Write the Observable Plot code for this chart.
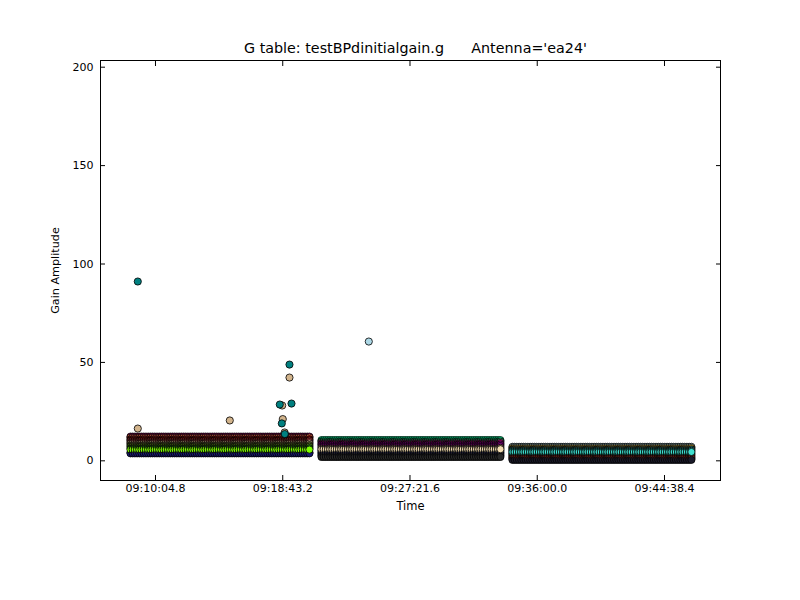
<!DOCTYPE html>
<html>
<head>
<meta charset="utf-8">
<script src="https://cdn.jsdelivr.net/npm/d3@7"></script>
<script src="https://cdn.jsdelivr.net/npm/@observablehq/plot@0.6"></script>
<style>
  html, body { margin: 0; padding: 0; background: #fff; }
  svg { display: block; }
  svg, svg text { font-family: "DejaVu Sans", sans-serif !important; }
</style>
</head>
<body>
<div id="chart"></div>
<script>
// ---- axis ticks ----
const xTickSeconds = [33004.8, 33523.2, 34041.6, 34560.0, 35078.4];
const xTickLabels = ["09:10:04.8", "09:18:43.2", "09:27:21.6", "09:36:00.0", "09:44:38.4"];
const yTicks = [0, 50, 100, 150, 200];

// ---- scans (seconds of day) and integration offsets within a scan ----
const scanStarts = [32903, 33681, 34459];
const integrationOffsets = [0,9,18,27,36,45,54,63,72,81,90,99,108,117,126,135,144,153,162,171,180,189,198,207,216,225,234,243,252,261,270,279,288,297,306,315,324,333,342,351,360,369,378,387,396,405,414,423,432,441,450,459,468,477,486,495,504,513,522,531,540,549,558,567,576,585,594,603,612,621,630,639,648,657,666,675,684,693,702,711,720,729];

// ---- per-scan rows (in drawing order): amplitude and colour ----
const scan1Amps   = [12.3, 11.8, 11.0, 10.3, 9.5, 8.8, 8.0, 7.2, 6.4, 4.3, 3.8, 5.7];
const scan1Colors = ["#c71585", "#ff7f50", "#8b0000", "#a52a2a", "#cd5c5c", "#d2b48c", "#556b2f", "#6b8e23", "#228b22", "#4682b4", "#191970", "#7fff00"];
const scan2Amps   = [10.5, 9.8, 9.0, 8.3, 7.5, 6.6, 5.2, 4.4, 3.6, 2.8, 2.0, 5.9];
const scan2Colors = ["#00fa9a", "#2e8b57", "#c71585", "#800080", "#8b008b", "#8b7355", "#696969", "#2f4f4f", "#000080", "#404040", "#2a2a2a", "#f5deb3"];
const scan3Amps   = [7.1, 6.5, 5.8, 5.1, 3.8, 3.1, 2.4, 1.7, 1.1, 0.5, 4.5];
const scan3Colors = ["#add8e6", "#daa520", "#2f6f6f", "#20b2aa", "#008b8b", "#006400", "#2f2f2f", "#b22222", "#ff6347", "#1a1a2a", "#40e0d0"];

// ---- outliers ----
const outlierTimes  = [32932.7, 32932.7, 33307.5, 33550.7, 33550.7, 33521.0, 33511.2, 33558.9, 33523.4, 33519.4, 33531.0, 33531.6, 33873.8];
const outlierAmps   = [91.1, 16.4, 20.5, 48.9, 42.3, 28.1, 28.6, 29.1, 21.2, 19.0, 14.4, 13.6, 60.6];
const outlierColors = ["#008080", "#d2b48c", "#d2b48c", "#008080", "#d2b48c", "#d2b48c", "#008080", "#008080", "#d2b48c", "#008080", "#d2b48c", "#008080", "#add8e6"];

// ---- build table (time-major drawing order, as the integrations were plotted) ----
const scanAmps = [scan1Amps, scan2Amps, scan3Amps];
const scanColors = [scan1Colors, scan2Colors, scan3Colors];
const points = [];
scanStarts.forEach((start, s) => {
  integrationOffsets.forEach(o => {
    scanAmps[s].forEach((amp, r) => {
      points.push({t: start + o, amp, color: scanColors[s][r]});
    });
  });
});
const outliers = outlierTimes.map((t, i) => ({t, amp: outlierAmps[i], color: outlierColors[i]}));

const fmtX = d => { const i = xTickSeconds.indexOf(d); return i >= 0 ? xTickLabels[i] : ""; };

const chart = Plot.plot({
  width: 800,
  height: 600,
  marginLeft: 100,
  marginRight: 80,
  marginTop: 60,
  marginBottom: 120,
  style: {fontFamily: "DejaVu Sans", fontSize: "11px", color: "black", background: "white"},
  x: {domain: [32780.8, 35306.6]},
  y: {domain: [-10, 203.4]},
  marks: [
    Plot.dot(points, {x: "t", y: "amp", r: 3.6, fill: "color", stroke: "black", strokeWidth: 0.8}),
    Plot.dot(outliers, {x: "t", y: "amp", r: 3.6, fill: "color", stroke: "black", strokeWidth: 0.8}),
    Plot.frame({stroke: "black", strokeWidth: 1}),
    Plot.axisX({anchor: "bottom", ticks: xTickSeconds, tickFormat: fmtX, tickSize: -5, tickPadding: 9, label: null, fontSize: 11}),
    Plot.axisX({anchor: "top", ticks: xTickSeconds, tickFormat: () => "", tickSize: -5, label: null}),
    Plot.axisY({anchor: "left", ticks: yTicks, tickSize: -5, tickPadding: 12, label: null, fontSize: 11}),
    Plot.axisY({anchor: "right", ticks: yTicks, tickFormat: () => "", tickSize: -5, label: null}),
    Plot.text(["G table: testBPdinitialgain.g\u00a0\u00a0\u00a0\u00a0\u00a0\u00a0Antenna='ea24'"], {frameAnchor: "top", lineAnchor: "middle", textAnchor: "middle", dy: -12, dx: 5, fontSize: 14.3}),
    Plot.text(["Time"], {frameAnchor: "bottom", lineAnchor: "middle", textAnchor: "middle", dy: 26, fontSize: 11.5}),
    Plot.text(["Gain Amplitude"], {frameAnchor: "left", lineAnchor: "middle", textAnchor: "middle", dx: -45, rotate: -90, fontSize: 11.2})
  ]
});
document.getElementById("chart").appendChild(chart);
</script>
</body>
</html>
